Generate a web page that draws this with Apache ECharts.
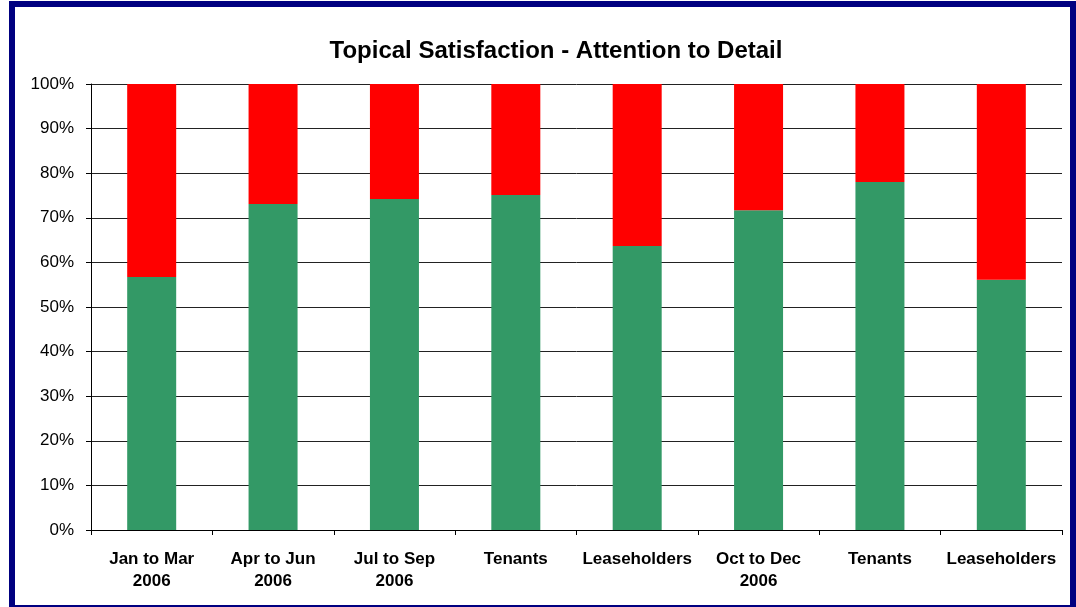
<!DOCTYPE html>
<html>
<head>
<meta charset="utf-8">
<script src="https://cdn.jsdelivr.net/npm/echarts@6/dist/echarts.min.js"></script>
<style>
    html, body {
        margin: 0;
        padding: 0;
        background: #fff;
        overflow: hidden;
    }
    #myChart {
        position: absolute;
        left: 0;
        top: 0;
        width: 1076px;
        height: 607px;
    }
    .frame {
        position: absolute;
        left: 9px;
        top: 1px;
        width: 1067px;
        height: 610px;
        box-sizing: border-box;
        border: 6px solid #000080;
        pointer-events: none;
    }
</style>
</head>
<body>
<div id="myChart"></div>
<div class="frame"></div>
<script>
    // categories along the x axis
    var categories = ['Jan to Mar\n2006', 'Apr to Jun\n2006', 'Jul to Sep\n2006', 'Tenants',
                      'Leaseholders', 'Oct to Dec\n2006', 'Tenants', 'Leaseholders']
    // satisfied share (green part), percent
    var satisfied = [56.7, 73.1, 74.2, 75.1, 63.7, 71.7, 78.0, 56.1]
    // rest of each bar (red part), percent
    var dissatisfied = [43.3, 26.9, 25.8, 24.9, 36.3, 28.3, 22.0, 43.9]
    // y axis ticks
    var yMin = 0
    var yMax = 100
    var yStep = 10

    var font = 'Liberation Sans, Arial, Helvetica, sans-serif'

    var myChart = echarts.init(document.getElementById('myChart'))

    myChart.setOption({
        animation: false,
        title: {
            text: 'Topical Satisfaction - Attention to Detail',
            left: 551,
            top: 34,
            textAlign: 'center',
            textStyle: {
                fontFamily: font,
                fontSize: 24,
                fontWeight: 'bold',
                color: '#000'
            }
        },
        grid: {
            left: 91,
            right: 14,
            top: 84,
            bottom: 77
        },
        xAxis: {
            type: 'category',
            data: categories,
            axisLine: { lineStyle: { color: '#000', width: 1 } },
            axisTick: { show: true, length: 5, lineStyle: { color: '#000' } },
            axisLabel: {
                margin: 18,
                interval: 0,
                fontFamily: font,
                fontSize: 17,
                fontWeight: 'bold',
                color: '#000',
                lineHeight: 22
            }
        },
        yAxis: {
            type: 'value',
            min: yMin,
            max: yMax,
            interval: yStep,
            axisLine: { show: true, lineStyle: { color: '#000', width: 1 } },
            axisTick: { show: true, length: 5, lineStyle: { color: '#000' } },
            axisLabel: {
                formatter: '{value}%',
                margin: 17,
                fontFamily: font,
                fontSize: 17,
                color: '#000'
            },
            splitLine: { show: true, lineStyle: { color: '#222', width: 1 } }
        },
        series: [
            {
                name: 'Satisfied',
                type: 'bar',
                stack: 'total',
                barWidth: 49,
                itemStyle: { color: '#339966' },
                data: satisfied
            },
            {
                name: 'Dissatisfied',
                type: 'bar',
                stack: 'total',
                barWidth: 49,
                itemStyle: { color: '#FF0000' },
                data: dissatisfied
            }
        ]
    })
</script>
</body>
</html>
